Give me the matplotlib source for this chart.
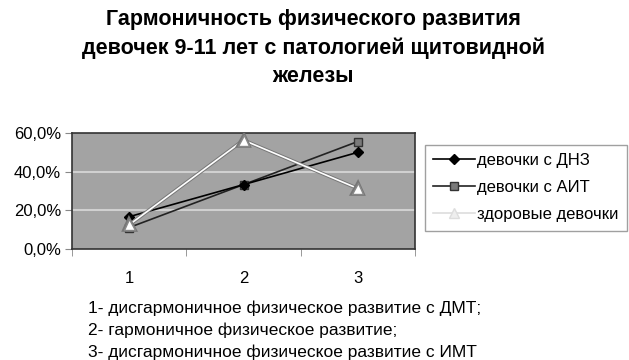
import matplotlib.pyplot as plt
import matplotlib.patheffects as pe
from matplotlib.ticker import FuncFormatter

plt.rcParams['font.family'] = ['Liberation Sans', 'DejaVu Sans']

categories = [1, 2, 3]
dnz = [16.7, 33.3, 50.0]
ait = [11.1, 33.3, 55.6]
healthy = [12.5, 56.3, 31.3]
labels = ['девочки с ДНЗ', 'девочки с АИТ', 'здоровые девочки']
title_lines = ['Гармоничность физического развития',
               'девочек 9-11 лет с патологией щитовидной',
               'железы']
notes = ['1- дисгармоничное физическое развитие с ДМТ;',
         '2- гармоничное физическое развитие;',
         '3- дисгармоничное физическое развитие с ИМТ']

W, H = 629, 360
fig = plt.figure(figsize=(W / 100, H / 100), dpi=100)
ax = fig.add_axes([72 / W, 1 - 249 / H, (415 - 72) / W, (249 - 133) / H])
ax.set_facecolor('#a3a3a3')

for y in [20, 40]:
  ax.axhline(y, color='#d0d0d0', lw=1.5, zorder=1)

ax.plot(categories, dnz, color='black', lw=1.2, marker='D', ms=5,
        mfc='black', mec='black', zorder=4)
ax.plot(categories, ait, color='#222222', lw=1.2, marker='s', ms=6,
        mfc='#7a7a7a', mec='#333333', zorder=3)
ax.plot(categories, healthy, color='white', lw=1.2, marker='^', ms=8,
        mfc='white', mec='#888888', zorder=5,
        path_effects=[pe.Stroke(linewidth=2.6, foreground='#777777'), pe.Normal()])

ax.set_xlim(0.5, 3.5)
ax.set_ylim(0, 60)
ax.set_yticks([0, 20, 40, 60])
ax.yaxis.set_major_formatter(FuncFormatter(lambda v, p: ('%.1f%%' % v).replace('.', ',')))
ax.set_xticks(categories)
ax.set_xticklabels(['1', '2', '3'])
ax.set_xticks([0.5, 1.5, 2.5, 3.5], minor=True)
ax.tick_params(axis='x', which='major', length=0, pad=16, labelsize=12)
ax.tick_params(axis='x', which='minor', length=5, color='#888888', direction='out')
ax.tick_params(axis='y', length=5, color='#888888', labelsize=12, pad=3)
for s in ax.spines.values():
  s.set_color('#333333')
  s.set_linewidth(1.2)

leg_handles = [
  plt.Line2D([], [], color='black', lw=1.2, marker='D', ms=5, mfc='black', mec='black'),
  plt.Line2D([], [], color='#222222', lw=1.2, marker='s', ms=6, mfc='#7a7a7a', mec='#333333'),
  plt.Line2D([], [], color='#dddddd', lw=1.2, marker='^', ms=7, mfc='#eeeeee', mec='#dddddd'),
]
fig.legend(leg_handles, labels, loc='upper left', bbox_to_anchor=(425 / W, 1 - 145 / H),
           frameon=True, fancybox=False, edgecolor='#888888', fontsize=12,
           handlelength=2.5, handletextpad=0.12, labelspacing=0.72, borderpad=0.5,
           borderaxespad=0)

for i, t in enumerate(title_lines):
  fig.text(313 / W, 1 - (20 + 28 * i) / H, t, ha='center', va='center', fontsize=15.5,
           fontweight='bold')

for i, n in enumerate(notes):
  fig.text(88 / W, 1 - (308 + 22 * i) / H, n, ha='left', va='center', fontsize=12.5)

fig.savefig('out.png', dpi=100)
